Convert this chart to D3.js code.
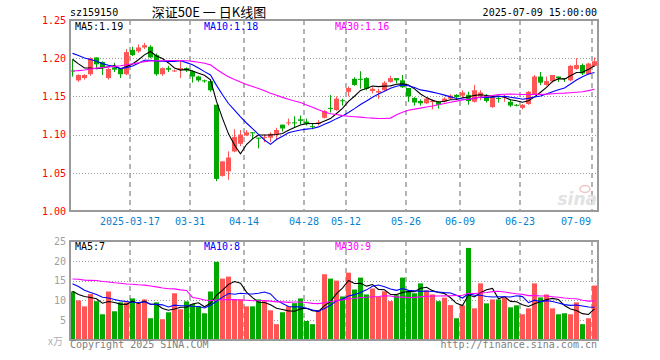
<!DOCTYPE html>
<html>
<head>
<meta charset="utf-8">
<script src="https://cdn.jsdelivr.net/npm/d3@7"></script>
<style>
body { margin: 0; background: #fff; }
svg text { font-family: "DejaVu Sans Mono", monospace; font-size: 10px; }
</style>
</head>
<body>
<svg width="660" height="360"></svg>
<script>
// trading days shown
const dates = [
  "2025-03-03","2025-03-04","2025-03-05","2025-03-06","2025-03-07",
  "2025-03-10","2025-03-11","2025-03-12","2025-03-13","2025-03-14",
  "2025-03-17","2025-03-18","2025-03-19","2025-03-20","2025-03-21",
  "2025-03-24","2025-03-25","2025-03-26","2025-03-27","2025-03-28",
  "2025-03-31","2025-04-01","2025-04-02","2025-04-03",
  "2025-04-07","2025-04-08","2025-04-09","2025-04-10","2025-04-11",
  "2025-04-14","2025-04-15","2025-04-16","2025-04-17","2025-04-18",
  "2025-04-21","2025-04-22","2025-04-23","2025-04-24","2025-04-25",
  "2025-04-28","2025-04-29","2025-04-30",
  "2025-05-06","2025-05-07","2025-05-08","2025-05-09",
  "2025-05-12","2025-05-13","2025-05-14","2025-05-15","2025-05-16",
  "2025-05-19","2025-05-20","2025-05-21","2025-05-22","2025-05-23",
  "2025-05-26","2025-05-27","2025-05-28","2025-05-29","2025-05-30",
  "2025-06-03","2025-06-04","2025-06-05","2025-06-06",
  "2025-06-09","2025-06-10","2025-06-11","2025-06-12","2025-06-13",
  "2025-06-16","2025-06-17","2025-06-18","2025-06-19","2025-06-20",
  "2025-06-23","2025-06-24","2025-06-25","2025-06-26","2025-06-27",
  "2025-06-30","2025-07-01","2025-07-02","2025-07-03","2025-07-04",
  "2025-07-07","2025-07-08","2025-07-09"
];

const open = [
  1.184,1.171,1.174,1.179,1.201,1.195,1.174,1.188,1.186,1.179,
  1.211,1.209,1.214,1.215,1.204,1.179,1.187,1.183,1.185,1.187,
  1.183,1.176,1.171,1.170,1.139,1.046,1.052,1.078,1.088,1.099,
  1.103,1.096,1.096,1.096,1.100,1.113,1.115,1.116,1.120,1.117,
  1.111,1.114,1.122,1.135,1.132,1.145,1.156,1.173,1.173,1.174,
  1.157,1.155,1.158,1.169,1.174,1.171,1.161,1.148,1.144,1.141,
  1.143,1.143,1.143,1.147,1.152,1.151,1.152,1.143,1.150,1.151,
  1.136,1.148,1.149,1.143,1.139,1.135,1.140,1.152,1.176,1.165,
  1.170,1.176,1.174,1.171,1.186,1.191,1.179,1.190
];
const high = [
  1.198,1.179,1.179,1.201,1.201,1.196,1.187,1.194,1.187,1.212,
  1.215,1.218,1.220,1.217,1.206,1.188,1.190,1.185,1.196,1.188,
  1.184,1.177,1.172,1.171,1.139,1.065,1.078,1.107,1.106,1.106,
  1.103,1.096,1.100,1.103,1.109,1.113,1.121,1.124,1.125,1.121,
  1.114,1.119,1.132,1.152,1.150,1.147,1.163,1.175,1.183,1.175,
  1.162,1.160,1.170,1.177,1.174,1.178,1.161,1.149,1.146,1.149,
  1.146,1.144,1.149,1.153,1.153,1.158,1.156,1.165,1.158,1.153,
  1.150,1.150,1.152,1.146,1.140,1.140,1.157,1.178,1.182,1.176,
  1.178,1.176,1.174,1.191,1.200,1.193,1.194,1.201
];
const low = [
  1.176,1.169,1.172,1.177,1.186,1.178,1.172,1.182,1.174,1.178,
  1.203,1.207,1.212,1.200,1.177,1.177,1.182,1.182,1.174,1.182,
  1.168,1.169,1.168,1.156,1.039,1.045,1.041,1.077,1.085,1.098,
  1.094,1.082,1.090,1.090,1.094,1.104,1.112,1.109,1.113,1.112,
  1.107,1.112,1.121,1.129,1.131,1.138,1.150,1.164,1.160,1.158,
  1.154,1.147,1.157,1.168,1.167,1.161,1.143,1.138,1.138,1.140,
  1.133,1.134,1.142,1.146,1.147,1.149,1.139,1.142,1.145,1.142,
  1.135,1.142,1.143,1.136,1.137,1.133,1.139,1.152,1.165,1.164,
  1.168,1.169,1.169,1.170,1.185,1.178,1.179,1.189
];
const close = [
  1.183,1.178,1.178,1.200,1.192,1.188,1.186,1.185,1.179,1.208,
  1.204,1.214,1.217,1.201,1.179,1.187,1.185,1.184,1.187,1.184,
  1.176,1.171,1.170,1.158,1.042,1.065,1.070,1.097,1.100,1.103,
  1.102,1.095,1.097,1.101,1.106,1.108,1.116,1.115,1.118,1.114,
  1.110,1.116,1.131,1.134,1.147,1.144,1.161,1.165,1.172,1.160,
  1.160,1.157,1.168,1.174,1.171,1.162,1.150,1.142,1.141,1.147,
  1.144,1.139,1.147,1.151,1.149,1.155,1.144,1.158,1.155,1.144,
  1.149,1.147,1.150,1.138,1.138,1.139,1.156,1.176,1.168,1.170,
  1.178,1.174,1.173,1.190,1.191,1.180,1.193,1.196
];
// volume, x万
const volume = [
  12.25,10,8.5,11.6,9.8,6.5,12.25,7.25,9.5,9.5,
  10.5,9.3,10.25,5.5,9.5,5.25,7,11.8,7.75,9.75,
  9.1,8.6,6.75,12.25,19.75,15.5,16,10.25,10.25,8.5,
  8.5,10.25,9.8,7.5,4,7,8.5,9.3,10.5,4.8,
  4,7.5,16.6,15.5,15,11,17,12.75,15.75,11.5,
  13,10.9,12.3,9.8,11.3,15.75,12.25,11.8,14.3,12.5,
  11.5,9.8,10.7,8.8,5.5,8.75,23.25,8,14.3,9.25,
  10.25,10.25,10.75,8.25,8.75,6.5,8,14.3,10.75,11.5,
  8,6.5,6.75,6.5,9.5,4,5.5,13.75
];

// sessions before the window, only feed the moving averages at the left edge
const prevClose = [
  1.152,1.158,1.155,1.162,1.165,1.160,1.163,1.158,1.167,
  1.170,1.168,1.175,1.172,1.178,1.181,1.177,1.183,1.186,
  1.195,1.200,
  1.205,1.212,1.218,1.215,1.220,1.208,1.205,1.200,1.197
];
const prevVolume = [
  12,15,13.5,11,14,16,12.5,13,15.5,12,14,13,11.5,16.5,14,12,13.5,15,14,
  62,
  17,18,17,15,13.5,
  14,11,13,11.25
];

const tickDates = ["2025-03-17","2025-03-31","2025-04-14","2025-04-28","2025-05-12",
                   "2025-05-26","2025-06-09","2025-06-23","2025-07-09"];
const tickLabels = ["2025-03-17","03-31","04-14","04-28","05-12","05-26","06-09","06-23","07-09"];
const priceTicks = [1.00, 1.05, 1.10, 1.15, 1.20, 1.25];
const volTicks = [5, 10, 15, 20, 25];
const maPeriods = [5, 10, 30];
const maColors = ["#000000", "#0000ff", "#ff00ff"];

const upColor = "#ff5555", downColor = "#00a800";
const gridColor = "#b4b4b4", frameColor = "#9a9a9a";

const svg = d3.select("svg");

const x = d3.scaleBand()
    .domain(dates)
    .range([70, 598]);

const y = d3.scaleLinear()
    .domain([1.00, 1.25])
    .range([211, 20]);

const yv = d3.scaleLinear()
    .domain([0, 25])
    .range([340, 241]);

const data = dates.map((d, i) => ({date: d, o: open[i], h: high[i], l: low[i], c: close[i], v: volume[i]}));

function movingAvg(prev, vals, n) {
    const all = prev.concat(vals);
    return vals.map((v, i) => d3.mean(all.slice(prev.length + i - n + 1, prev.length + i + 1)));
}

const priceMA = maPeriods.map(n => movingAvg(prevClose, close, n));
const volMA = maPeriods.map(n => movingAvg(prevVolume, volume, n));

// headers
svg.append("text").attr("x", 70).attr("y", 16).text("sz159150");
svg.append("text")
    .attr("x", 209).attr("y", 17)
    .attr("text-anchor", "middle")
    .style("font-family", "'Noto Sans CJK SC', sans-serif")
    .style("font-size", "13px")
    .text("深证50E 一 日K线图");
svg.append("text").attr("x", 597).attr("y", 16).attr("text-anchor", "end").text("2025-07-09 15:00:00");

function panel(g, top, bottom) {
    // vertical dashed lines on the tick dates
    g.selectAll(".vgrid")
        .data(tickDates)
        .enter().append("line")
        .attr("x1", d => x(d)).attr("x2", d => x(d))
        .attr("y1", top).attr("y2", bottom)
        .attr("stroke", gridColor)
        .attr("stroke-width", 2)
        .attr("stroke-dasharray", "5,4");
}

// ---------- price panel ----------
const main = svg.append("g");
panel(main, 20, 211);

main.selectAll(".hgrid")
    .data(priceTicks.slice(1, -1))
    .enter().append("line")
    .attr("x1", 70).attr("x2", 598)
    .attr("y1", d => Math.round(y(d)) + 0.5).attr("y2", d => Math.round(y(d)) + 0.5)
    .attr("stroke", "#999")
    .attr("stroke-dasharray", "1,2");

main.append("g")
    .attr("transform", "translate(66,0)")
    .call(d3.axisLeft(y).tickValues(priceTicks).tickSize(0).tickFormat(d3.format(".2f")))
    .call(g => g.select(".domain").remove())
    .selectAll("text")
    .attr("x", 0)
    .style("font-family", "'DejaVu Sans Mono', monospace")
    .style("font-size", "10px")
    .style("fill", "#ff0000");

// sina watermark
main.append("ellipse")
    .attr("cx", 585).attr("cy", 189).attr("rx", 5).attr("ry", 3.5)
    .attr("fill", "none").attr("stroke", "#f2c4c4").attr("stroke-width", 1.5);
main.append("text")
    .attr("x", 597).attr("y", 205)
    .attr("text-anchor", "end")
    .style("font-family", "'DejaVu Sans', sans-serif")
    .style("font-size", "17px")
    .style("font-style", "italic")
    .style("font-weight", "bold")
    .style("fill", "#e2e2e2")
    .text("sina");

const candles = main.append("g").selectAll("g")
    .data(data)
    .enter().append("g");

candles.append("rect")
    .attr("x", d => x(d.date) + 2)
    .attr("width", 1)
    .attr("y", d => y(d.h))
    .attr("height", d => Math.max(1, y(d.l) - y(d.h)))
    .attr("fill", d => d.c >= d.o ? upColor : downColor);

candles.append("rect")
    .attr("x", d => x(d.date))
    .attr("width", 5)
    .attr("y", d => y(Math.max(d.o, d.c)))
    .attr("height", d => Math.max(1, Math.abs(y(d.o) - y(d.c))))
    .attr("fill", d => d.c >= d.o ? upColor : downColor);

const priceLine = d3.line()
    .x((d, i) => x(dates[i]) + 2.5)
    .y(d => y(d));

priceMA.forEach((ma, k) => {
    main.append("path")
        .attr("d", priceLine(ma))
        .attr("fill", "none")
        .attr("stroke", maColors[k])
        .attr("stroke-width", 1.1);
});

main.append("rect")
    .attr("x", 70).attr("y", 20).attr("width", 528).attr("height", 191)
    .attr("fill", "none").attr("stroke", frameColor).attr("stroke-width", 2);

const labelX = [75, 204, 335];
maPeriods.forEach((n, k) => {
    main.append("text")
        .attr("x", labelX[k]).attr("y", 30)
        .style("fill", maColors[k])
        .text(`MA${n}:${priceMA[k][priceMA[k].length - 1].toFixed(2)}`);
});

// date labels
svg.selectAll(".dlabel")
    .data(tickDates)
    .enter().append("text")
    .attr("x", (d, i) => i === tickDates.length - 1 ? x(d) - 1 : x(d))
    .attr("y", 225)
    .attr("text-anchor", (d, i) => i === tickDates.length - 1 ? "end" : "middle")
    .style("fill", "#0a7fd0")
    .text((d, i) => tickLabels[i]);

// ---------- volume panel ----------
const vol = svg.append("g");
panel(vol, 241, 340);

vol.selectAll(".hgrid")
    .data(volTicks.slice(0, -1))
    .enter().append("line")
    .attr("x1", 70).attr("x2", 598)
    .attr("y1", d => Math.round(yv(d)) + 0.5).attr("y2", d => Math.round(yv(d)) + 0.5)
    .attr("stroke", "#999")
    .attr("stroke-dasharray", "1,2");

vol.append("g")
    .attr("transform", "translate(66,0)")
    .call(d3.axisLeft(yv).tickValues(volTicks).tickSize(0))
    .call(g => g.select(".domain").remove())
    .selectAll("text")
    .attr("x", 0)
    .style("font-family", "'DejaVu Sans Mono', monospace")
    .style("font-size", "10px")
    .style("fill", "#a0a0a0");

vol.append("text")
    .attr("x", 63).attr("y", 345)
    .attr("text-anchor", "end")
    .style("font-family", "'Noto Sans CJK SC', sans-serif")
    .style("font-size", "10px")
    .style("fill", "#b0b0b0")
    .text("x万");

vol.append("g").selectAll("rect")
    .data(data)
    .enter().append("rect")
    .attr("x", d => x(d.date))
    .attr("width", 5)
    .attr("y", d => yv(d.v))
    .attr("height", d => yv(0) - yv(d.v))
    .attr("fill", d => d.c >= d.o ? upColor : downColor);

const volLine = d3.line()
    .x((d, i) => x(dates[i]) + 2.5)
    .y(d => yv(d));

volMA.forEach((ma, k) => {
    vol.append("path")
        .attr("d", volLine(ma))
        .attr("fill", "none")
        .attr("stroke", maColors[k])
        .attr("stroke-width", 1.1);
});

vol.append("rect")
    .attr("x", 70).attr("y", 241).attr("width", 528).attr("height", 99)
    .attr("fill", "none").attr("stroke", frameColor).attr("stroke-width", 2);

maPeriods.forEach((n, k) => {
    vol.append("text")
        .attr("x", labelX[k]).attr("y", 250)
        .style("fill", maColors[k])
        .text(`MA${n}:${Math.floor(volMA[k][volMA[k].length - 1])}`);
});

// footer
svg.append("text").attr("x", 70).attr("y", 348).style("fill", "#808080").text("Copyright 2025 SINA.COM");
svg.append("text").attr("x", 597).attr("y", 348).attr("text-anchor", "end").style("fill", "#808080").text("http://finance.sina.com.cn");
</script>
</body>
</html>
